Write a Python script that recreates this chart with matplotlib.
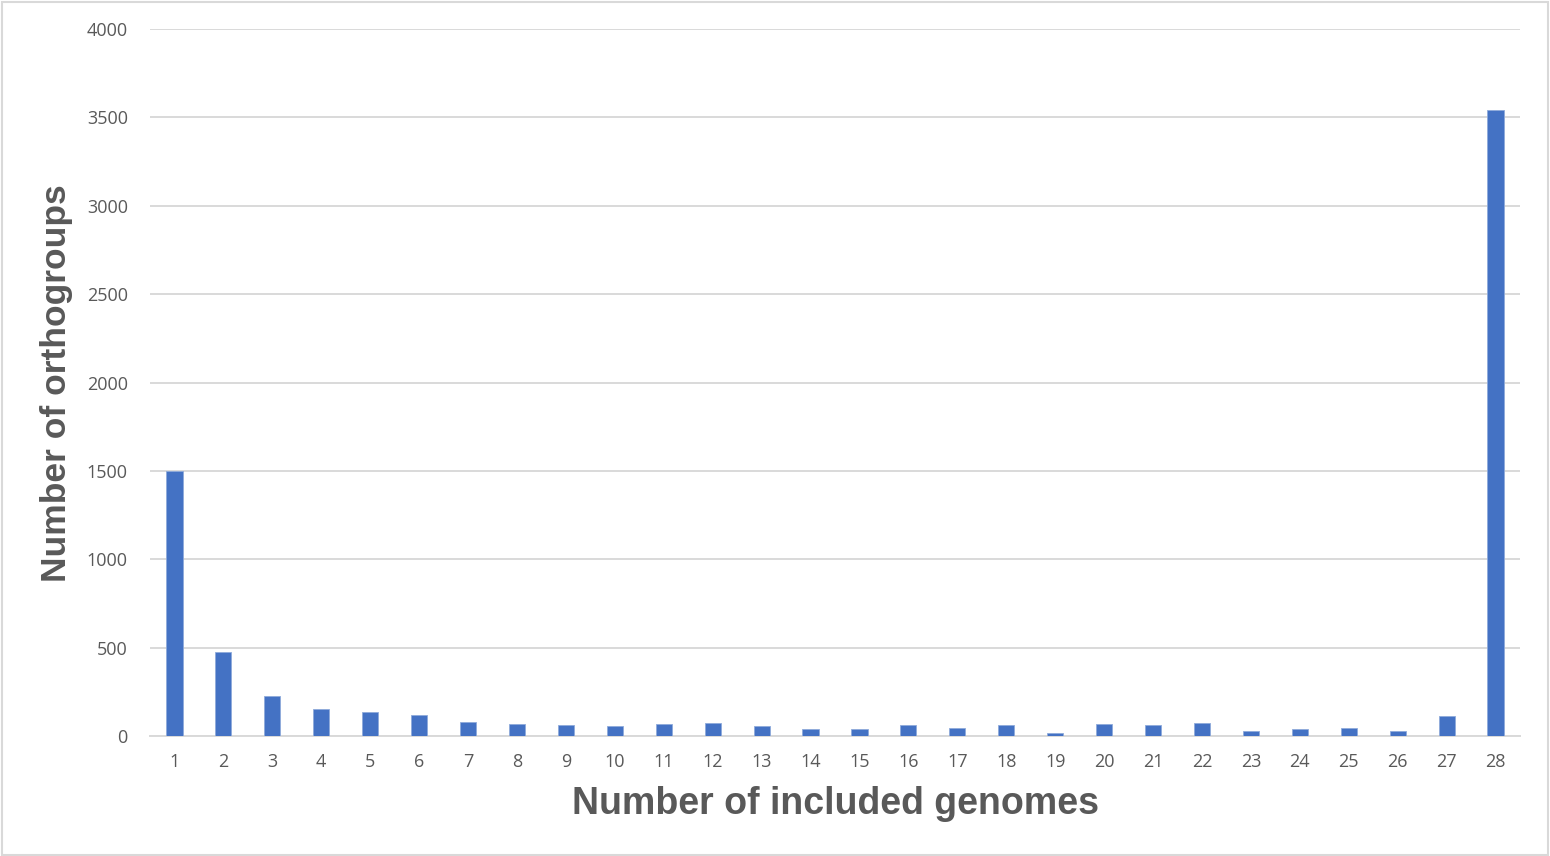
import matplotlib
matplotlib.use("Agg")
import matplotlib.pyplot as plt
from matplotlib.patches import Rectangle

genomes = list(range(1, 29))
orthogroups = [1500, 476, 225, 153, 138, 118, 78, 70, 63, 59,
               68, 74, 55, 42, 40, 63, 45, 63, 17, 68,
               63, 74, 27, 42, 45, 30, 112, 3540]
y_ticks = [0, 500, 1000, 1500, 2000, 2500, 3000, 3500, 4000]

plt.rcParams['font.family'] = ['Liberation Sans', 'DejaVu Sans']

fig = plt.figure(figsize=(15.5, 8.56), dpi=100)
ax = fig.add_axes([150 / 1550, 1 - 736 / 856, 1370 / 1550, 707 / 856])

ax.bar(genomes, orthogroups, width=0.33, color="#4472C4",
       edgecolor="#8eaadb", linewidth=0.6, zorder=3)

ax.set_xlim(0.5, 28.5)
ax.set_ylim(0, 4000)
ax.set_yticks(y_ticks)
ax.set_xticks(genomes)
ax.grid(axis="y", color="#d9d9d9", linewidth=1.4, zorder=0)
ax.tick_params(length=0, labelsize=13, colors="#595959")
ax.tick_params(axis="x", pad=12)
ax.tick_params(axis="y", pad=16)
for lbl in ax.get_xticklabels() + ax.get_yticklabels():
    lbl.set_family(["Open Sans", "DejaVu Sans"])
for s in ["top", "right", "left"]:
    ax.spines[s].set_visible(False)
ax.spines["bottom"].set_color("#d9d9d9")
ax.spines["bottom"].set_linewidth(1.4)

fig.text(835 / 1550, 1 - 804 / 856, "Number of included genomes",
         ha="center", va="center", fontsize=27, fontweight="bold", color="#595959")
fig.text(57 / 1550, 1 - 383 / 856, "Number of orthogroups", rotation=90,
         ha="center", va="center", fontsize=25.5, fontweight="bold", color="#595959")

# light frame around the whole chart
fig.patches.append(Rectangle((0.001, 0.001), 0.998, 0.997, transform=fig.transFigure,
                             fill=False, edgecolor="#d9d9d9", linewidth=1.5))

fig.savefig("out.png", dpi=100)
